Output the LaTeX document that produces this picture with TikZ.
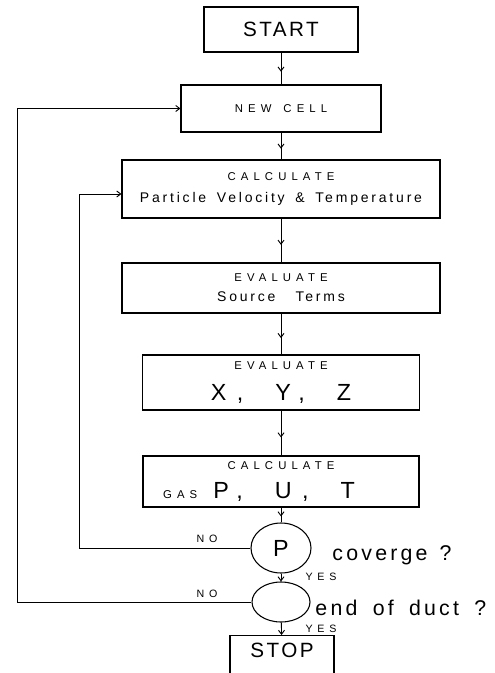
\documentclass[tikz,border=0pt]{standalone}
\usepackage{fontspec}
\setmainfont{Liberation Sans}
\usetikzlibrary{shapes.geometric,arrows.meta,decorations.markings}

%%% lettering %%%
\newcommand{\termfont}{\fontsize{15.5}{18}\selectfont\addfontfeature{LetterSpace=12}}
\newcommand{\capsfont}{\fontsize{8.5}{10}\selectfont\addfontfeature{LetterSpace=45}\spaceskip=9pt\relax}
\newcommand{\wordfont}{\fontsize{10.5}{12}\selectfont\addfontfeature{LetterSpace=20}\spaceskip=8pt\relax}
\newcommand{\varfont}{\fontsize{17.5}{20}\selectfont\spaceskip=24pt\relax}
\newcommand{\tagfont}{\fontsize{8}{9}\selectfont\addfontfeature{LetterSpace=45}}
\newcommand{\askfont}{\fontsize{16}{18}\selectfont\addfontfeature{LetterSpace=15}\spaceskip=9pt\relax}

\begin{document}
\begin{tikzpicture}[x=0.75pt, y=-0.75pt, line width=0.7pt, font=\capsfont,
  box/.style={draw, line width=0.8pt, inner sep=0pt, align=center},
  decision/.style={draw, ellipse, line width=0.8pt, inner sep=0pt},
  tag/.style={font=\tagfont, inner sep=0pt, anchor=base},
  ask/.style={font=\askfont, inner sep=0pt, anchor=base west},
  feed/.style={-{Straight Barb[length=3pt,width=4.5pt]}},
  midarrow/.style={postaction={decorate}, decoration={markings,
    mark=at position 0.6 with {\arrow{Straight Barb[length=3pt,width=4.5pt]}}}},
  ]
  \useasboundingbox (0,0) rectangle (494,673);
  \clip (0,0) rectangle (494,673);

  %%% main column %%%
  \node[box, font=\termfont, minimum width=115.5pt, minimum height=33.75pt] (start) at (281,29.5) {START};
  \node[box, minimum width=150pt, minimum height=35.25pt] (newcell) at (281,108.5) {NEW CELL};
  \node[box, minimum width=238.5pt, minimum height=43.5pt] (calcvel) at (281,189)
    {CALCULATE\\[6.5pt]{\wordfont Particle Velocity \& Temperature}};
  \node[box, minimum width=238.5pt, minimum height=37.5pt] (source) at (281,288)
    {EVALUATE\\[5pt]{\wordfont\spaceskip=15pt\relax Source Terms}};
  \node[box, minimum width=207.75pt, minimum height=41.25pt] (xyz) at (281,382.5)
    {EVALUATE\\[10.25pt]{\varfont X, Y, Z}};
  \node[box, minimum width=207pt, minimum height=38.25pt] (gas) at (281,481.5)
    {CALCULATE\\[8.75pt]GAS\hspace{12pt}{\varfont P, U, T}\hspace{33pt}\null};
  \node[decision, font=\varfont, minimum width=45pt, minimum height=37.5pt] (conv) at (281,548) {P};
  \node[decision, minimum width=43.5pt, minimum height=30pt] (endduct) at (281,602) {};
  \node[box, font=\termfont, anchor=north, minimum width=78pt, inner ysep=4pt,
    text height=12.5pt, text depth=14pt] (stop) at (282,635) {STOP};

  %%% forward flow %%%
  \draw[midarrow] (start) -- (newcell);
  \draw[midarrow] (newcell) -- (calcvel);
  \draw[midarrow] (calcvel) -- (source);
  \draw[midarrow] (source) -- (xyz);
  \draw[midarrow] (xyz) -- (gas);
  \draw[midarrow] (gas) -- (conv);
  \draw[feed] (conv) -- (endduct);
  \draw[feed] (endduct) -- (stop);

  %%% return loops %%%
  \coordinate (innerbend) at (79,548);
  \coordinate (outerbend) at (17,602);
  \draw[feed] (conv.west) -- (innerbend) |- ([yshift=-3.75pt]calcvel.west);
  \draw[feed] (endduct.west) -- (outerbend) |- (newcell.west);

  %%% branch labels %%%
  \node[tag] (no1) at (207,542) {NO};
  \node[tag] (no2) at (207,597) {NO};
  \node[tag] (yes1) at (321,580) {YES};
  \node[tag] (yes2) at (321,632) {YES};
  \node[ask] (convq) at (332,560) {coverge ?};
  \node[ask] (ductq) at (315,615) {\spaceskip=11.5pt\relax end of duct ?};
\end{tikzpicture}
\end{document}
